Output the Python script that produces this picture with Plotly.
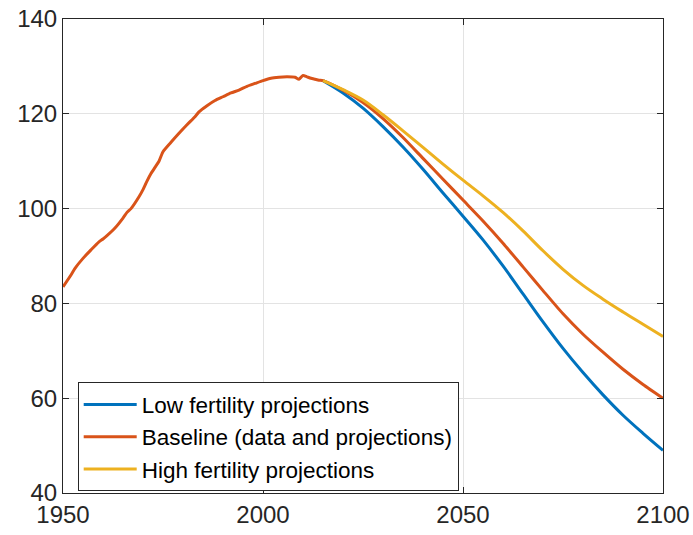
import plotly.graph_objects as go

# Historical baseline data
hist_years = [1950, 1952, 1953, 1955, 1957, 1959, 1960, 1961, 1963, 1965, 1966, 1967,
              1969, 1970, 1971, 1972, 1973, 1974, 1975, 1977, 1979, 1981, 1983, 1984,
              1986, 1988, 1990, 1992, 1994, 1996, 1998, 2000, 2002, 2004, 2006, 2008,
              2009, 2010, 2011, 2012, 2013, 2014]
hist_values = [83.5, 86.0, 87.4, 89.5, 91.3, 93.0, 93.6, 94.3, 95.9, 98.0, 99.2, 100.0,
               102.5, 104.0, 105.8, 107.4, 108.7, 110.0, 112.0, 114.0, 115.9, 117.7, 119.4, 120.4,
               121.7, 122.8, 123.6, 124.4, 125.0, 125.8, 126.4, 127.0, 127.5, 127.7, 127.8, 127.7,
               127.3, 128.1, 127.8, 127.5, 127.3, 127.1]

# Projections
proj_years = [2015, 2020, 2025, 2030, 2035, 2040, 2045, 2050, 2055, 2060, 2065,
              2070, 2075, 2080, 2085, 2090, 2095, 2100]
low_proj = [127.0, 124.4, 121.2, 117.3, 113.0, 108.3, 103.3, 98.4, 93.4, 87.9, 82.0,
            76.1, 70.5, 65.4, 60.7, 56.4, 52.6, 49.0]
base_proj = [127.0, 125.0, 122.4, 119.0, 115.0, 110.6, 106.2, 101.8, 97.4, 92.7, 87.7,
             82.7, 77.8, 73.5, 69.7, 66.1, 62.9, 60.0]
high_proj = [127.0, 125.1, 122.9, 119.8, 116.4, 112.9, 109.4, 106.0, 102.7, 99.2, 95.3,
             91.1, 87.2, 83.8, 80.9, 78.2, 75.6, 73.0]

series_names = ["Low fertility projections", "Baseline (data and projections)",
                "High fertility projections"]
x_ticks = [1950, 2000, 2050, 2100]
y_ticks = [40, 60, 80, 100, 120, 140]

TXT = "#262626"
FONT = "Liberation Sans, Arial, Helvetica, sans-serif"

fig = go.Figure()
fig.add_trace(go.Scatter(x=proj_years, y=low_proj, mode="lines", name=series_names[0],
                         line=dict(color="#0072BD", width=3, shape="spline", smoothing=1.0)))
fig.add_trace(go.Scatter(x=hist_years + proj_years, y=hist_values + base_proj, mode="lines",
                         name=series_names[1],
                         line=dict(color="#D95319", width=3, shape="spline", smoothing=0.6)))
fig.add_trace(go.Scatter(x=proj_years, y=high_proj, mode="lines", name=series_names[2],
                         line=dict(color="#EDB120", width=3, shape="spline", smoothing=1.0)))

axis_common = dict(
    showline=True, linecolor=TXT, linewidth=1, mirror="ticks",
    ticks="inside", ticklen=6, tickcolor=TXT, tickwidth=1,
    showgrid=True, gridcolor="#e3e3e3", gridwidth=1,
    zeroline=False, automargin=False, ticklabeloverflow="allow",
    tickfont=dict(family=FONT, size=24, color=TXT),
)

fig.update_xaxes(range=[1950, 2100], tickvals=x_ticks, ticktext=[str(v) for v in x_ticks],
                 **axis_common)
fig.update_yaxes(range=[40, 140], tickvals=y_ticks, ticktext=[str(v) for v in y_ticks],
                 **axis_common)

fig.update_layout(
    width=693, height=535,
    margin=dict(l=63, r=30, t=19, b=42, autoexpand=False),
    plot_bgcolor="white", paper_bgcolor="white",
    font=dict(family=FONT, color=TXT),
    legend=dict(
        x=0.0245, y=0.2335, xanchor="left", yanchor="top",
        bgcolor="white", bordercolor=TXT, borderwidth=1,
        font=dict(family=FONT, size=22.5, color="black"),
        itemwidth=53, tracegroupgap=0,
    ),
    showlegend=True,
)

# remove the default page margin so the figure sits at the window's top-left corner
fig.write_html(
    "out.html",
    config={"displayModeBar": False},
    post_script="document.body.style.margin='0';document.documentElement.style.overflow='hidden';",
)
